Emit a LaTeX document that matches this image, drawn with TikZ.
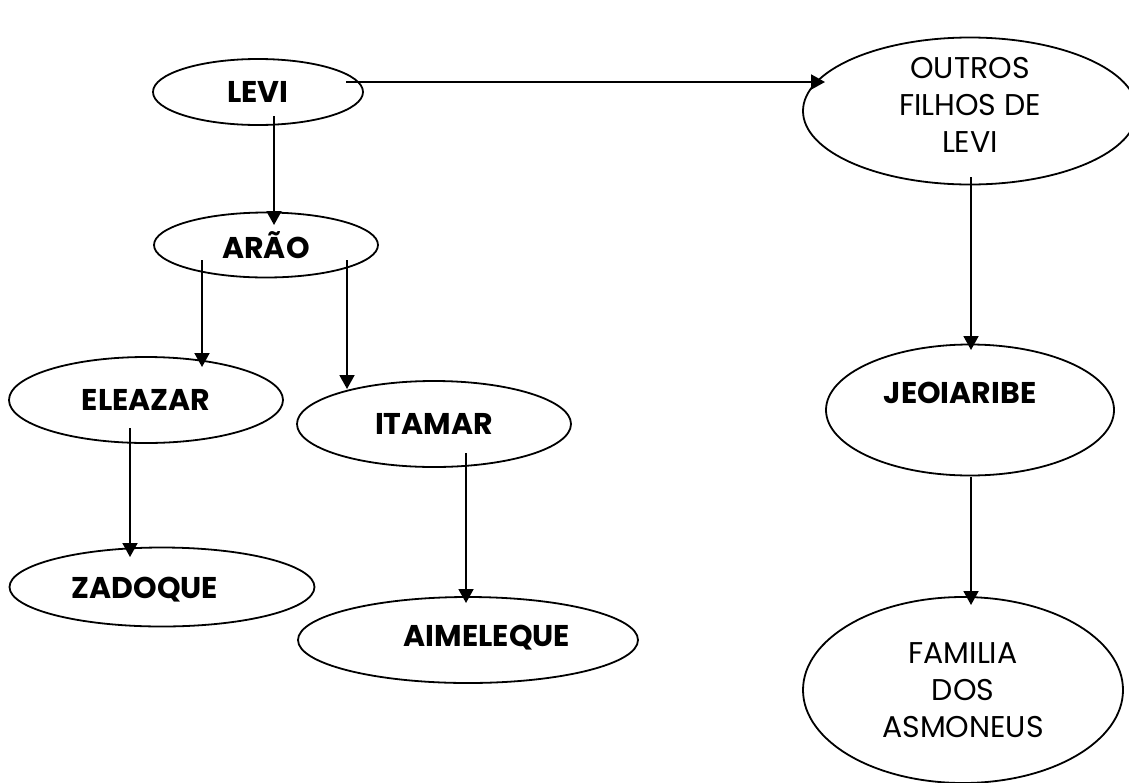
\documentclass[tikz,border=0pt]{standalone}
\usepackage{fontspec}
\setmainfont{Poppins}
\usetikzlibrary{arrows.meta,shapes.geometric,calc}

\begin{document}
\begin{tikzpicture}[
    x=1pt, y=-1pt,
    font=\fontsize{30}{37}\selectfont,
    oval/.style={draw, ellipse, line width=1.8pt, inner sep=0pt, align=center},
    boldoval/.style={oval, font=\fontsize{30}{37}\selectfont\bfseries},
    boldtext/.style={font=\fontsize{30}{37}\selectfont\bfseries},
    plaintext/.style={align=center, font=\fontsize{30}{37}\selectfont},
    arrow/.style={-{Triangle[width=15pt,length=14pt]}, line width=1.9pt}
]
\useasboundingbox (0,0) rectangle (1129,782);
% left branch
\node[boldoval, minimum width=210pt, minimum height=66pt] (levi) at (258,92) {LEVI};
\node[boldoval, minimum width=224pt, minimum height=65pt] (arao) at (266,245) {ARÃO};
\node[boldoval, minimum width=274pt, minimum height=86pt] (eleazar) at (146,400) {ELEAZAR};
\node[boldoval, minimum width=274pt, minimum height=86pt] (itamar) at (434,424) {ITAMAR};
\node[boldoval, minimum width=305pt, minimum height=79pt,
      label={[boldtext, xshift=-17pt, yshift=-3pt]center:ZADOQUE}] (zadoque) at (162,587) {};
\node[boldoval, minimum width=340pt, minimum height=86pt,
      label={[boldtext, xshift=19pt, yshift=2pt]center:AIMELEQUE}] (aimeleque) at (468,640) {};
% right branch
\node[oval, minimum width=334pt, minimum height=147pt,
      label={[plaintext, yshift=6pt]center:OUTROS\\FILHOS DE\\LEVI}] (outros) at (970,111) {};
\node[boldoval, minimum width=288pt, minimum height=131pt,
      label={[boldtext, xshift=-10pt, yshift=17pt]center:JEOIARIBE}] (jeoiaribe) at (970,410) {};
\node[oval, minimum width=320pt, minimum height=186pt] (familia) at (963,690) {FAMILIA\\DOS\\ASMONEUS};
% connectors
\draw[arrow] ($(levi)+(16,24)$) -- ($(arao)+(8,-20)$);
\draw[arrow] ($(levi)+(88,-10)$) -- ($(outros)+(-145,-29)$);
\draw[arrow] ($(arao)+(-64,15)$) -- ($(eleazar)+(56,-33)$);
\draw[arrow] ($(arao)+(81,15)$) -- ($(itamar)+(-87,-35)$);
\draw[arrow] ($(eleazar)+(-16,28)$) -- ($(zadoque)+(-32,-30)$);
\draw[arrow] ($(itamar)+(32,29)$) -- ($(aimeleque)+(-2,-37)$);
\draw[arrow] ($(outros)+(1,66)$) -- ($(jeoiaribe)+(1,-60)$);
\draw[arrow] ($(jeoiaribe)+(1,67)$) -- ($(familia)+(8,-85)$);
\end{tikzpicture}
\end{document}
